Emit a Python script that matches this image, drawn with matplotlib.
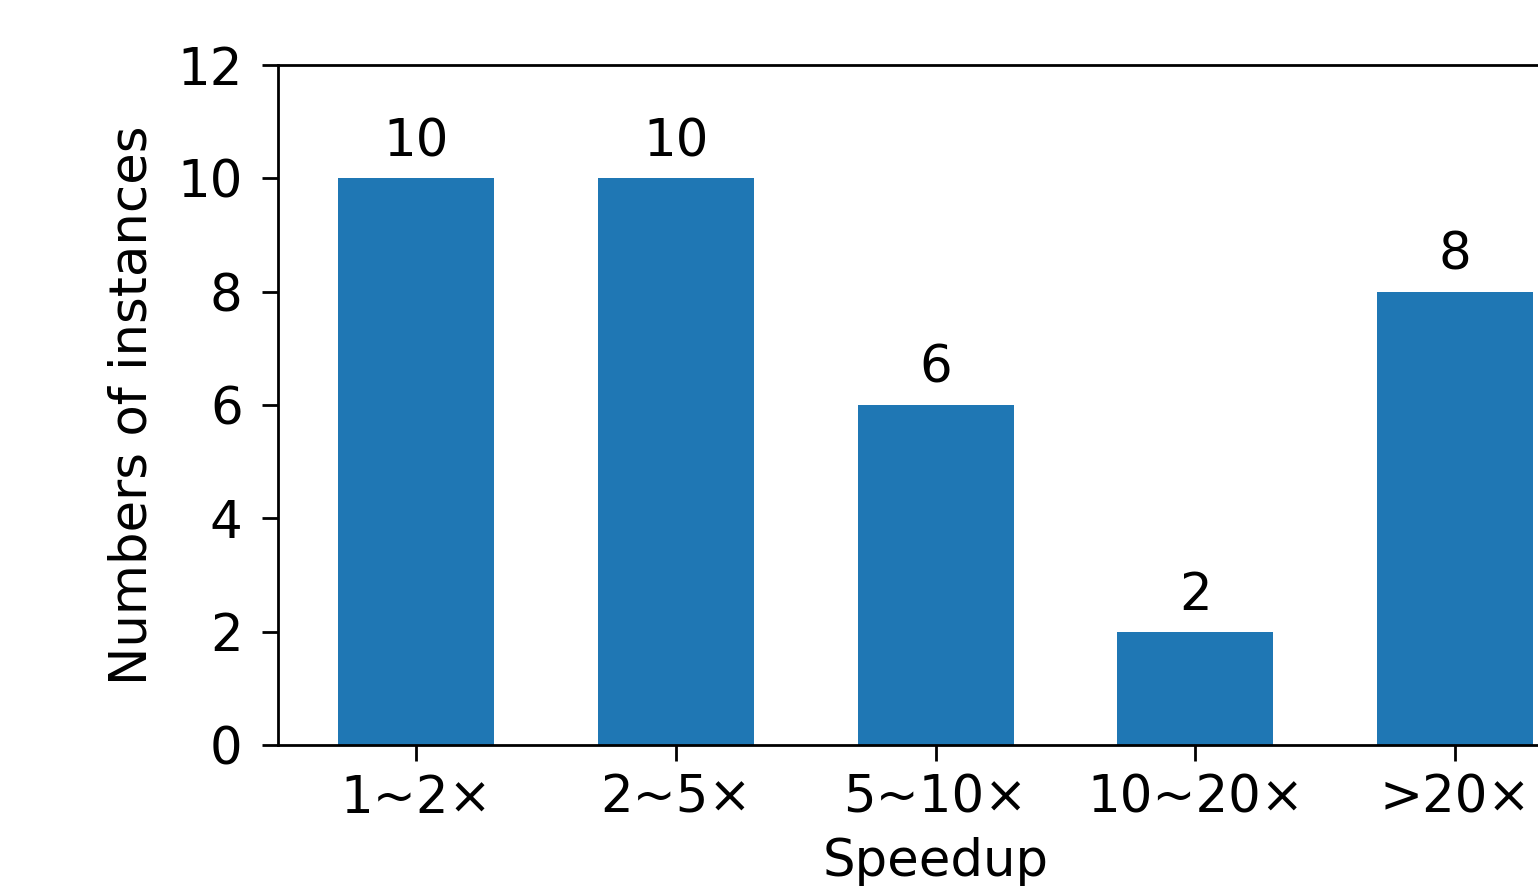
import matplotlib
matplotlib.use("Agg")
import matplotlib.pyplot as plt

# Data
categories = ['1~2×', '2~5×', '5~10×', '10~20×', '>20×']
counts = [10, 10, 6, 2, 8]

fig = plt.figure(figsize=(15.38, 8.86), dpi=100)
# axes extends past the right edge (reference is cropped)
ax = fig.add_axes([0.1808, 0.1591, 0.855, 0.7675])

bars = ax.bar(range(len(categories)), counts, width=0.6, color='#1f77b4')
ax.bar_label(bars, padding=8, fontsize=37)

ax.set_ylim(0, 12)
ax.set_xticks(range(len(categories)))
ax.set_xticklabels(categories)
ax.tick_params(labelsize=37, length=11.5, width=2)
ax.tick_params(axis='y', pad=14)
ax.tick_params(axis='x', pad=9)
for s in ax.spines.values():
    s.set_linewidth(2)

ax.set_xlabel('Speedup', fontsize=37, labelpad=10)
ax.set_ylabel('Numbers of instances', fontsize=37, labelpad=14)

fig.savefig('out.png', dpi=100)
